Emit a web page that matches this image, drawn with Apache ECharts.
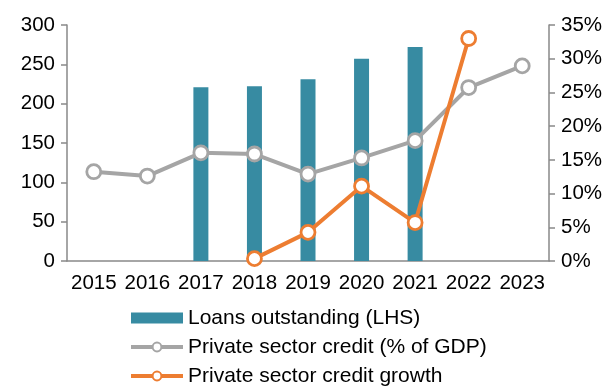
<!DOCTYPE html>
<html>
<head>
<meta charset="utf-8">
<script src="https://cdn.jsdelivr.net/npm/echarts@6/dist/echarts.min.js"></script>
<style>
  html, body { margin: 0; padding: 0; background: #fff; }
  #chart { width: 610px; height: 386px; }
</style>
</head>
<body>
<div id="chart"></div>
<script>
const years = ["2015", "2016", "2017", "2018", "2019", "2020", "2021", "2022", "2023"];
const loans = [null, null, 221, 222, 231, 257, 272, null, null];
const creditGdp = [113.5, 108, 137.5, 136, 110.5, 131, 153, 220.5, 248];
const creditGrowth = [null, null, null, 0.35, 4.25, 11.1, 5.7, 33.0, null];

const font = "Liberation Sans";
const axisGrey = "#898989";

const chart = echarts.init(document.getElementById("chart"));
chart.setOption({
  animation: false,
  textStyle: { fontFamily: font },
  grid: { left: 67, right: 61, top: 25, bottom: 125 },
  legend: {
    orient: "vertical",
    left: 129,
    top: 306,
    height: 120,
    padding: 0,
    itemWidth: 52,
    itemHeight: 11,
    itemGap: 5,
    lineStyle: { width: 4 },
    textStyle: { fontFamily: font, fontSize: 21, color: "#000", lineHeight: 24 },
    data: [
      { name: "Loans outstanding (LHS)", icon: "rect" },
      "Private sector credit (% of GDP)",
      "Private sector credit growth"
    ]
  },
  xAxis: {
    type: "category",
    data: years,
    axisLine: { lineStyle: { color: axisGrey, width: 1.5 } },
    axisTick: { length: 6, lineStyle: { color: axisGrey, width: 1.5 } },
    axisLabel: { color: "#000", fontSize: 20.5, margin: 12, interval: 0 }
  },
  yAxis: [
    {
      type: "value", min: 0, max: 300, interval: 50,
      axisLine: { show: true, lineStyle: { color: axisGrey, width: 1.5 } },
      axisTick: { show: true, length: 6, lineStyle: { color: axisGrey, width: 1.5 } },
      splitLine: { show: false },
      axisLabel: { color: "#000", fontSize: 20.5, margin: 12 }
    },
    {
      type: "value", min: 0, max: 35, interval: 5,
      axisLine: { show: true, lineStyle: { color: axisGrey, width: 1.5 } },
      axisTick: { show: true, length: 6, lineStyle: { color: axisGrey, width: 1.5 } },
      splitLine: { show: false },
      axisLabel: { color: "#000", fontSize: 20.5, margin: 12, formatter: "{value}%" }
    }
  ],
  series: [
    {
      name: "Loans outstanding (LHS)",
      type: "bar",
      data: loans,
      barWidth: 15,
      itemStyle: { color: "#378BA2" }
    },
    {
      name: "Private sector credit (% of GDP)",
      type: "line",
      data: creditGdp,
      symbol: "circle",
      symbolSize: 14,
      lineStyle: { color: "#A5A5A5", width: 4 },
      itemStyle: { color: "#fff", borderColor: "#A5A5A5", borderWidth: 2.8 }
    },
    {
      name: "Private sector credit growth",
      type: "line",
      yAxisIndex: 1,
      data: creditGrowth,
      symbol: "circle",
      symbolSize: 14,
      lineStyle: { color: "#ED7D31", width: 4 },
      itemStyle: { color: "#fff", borderColor: "#ED7D31", borderWidth: 2.8 }
    }
  ]
});
</script>
</body>
</html>
